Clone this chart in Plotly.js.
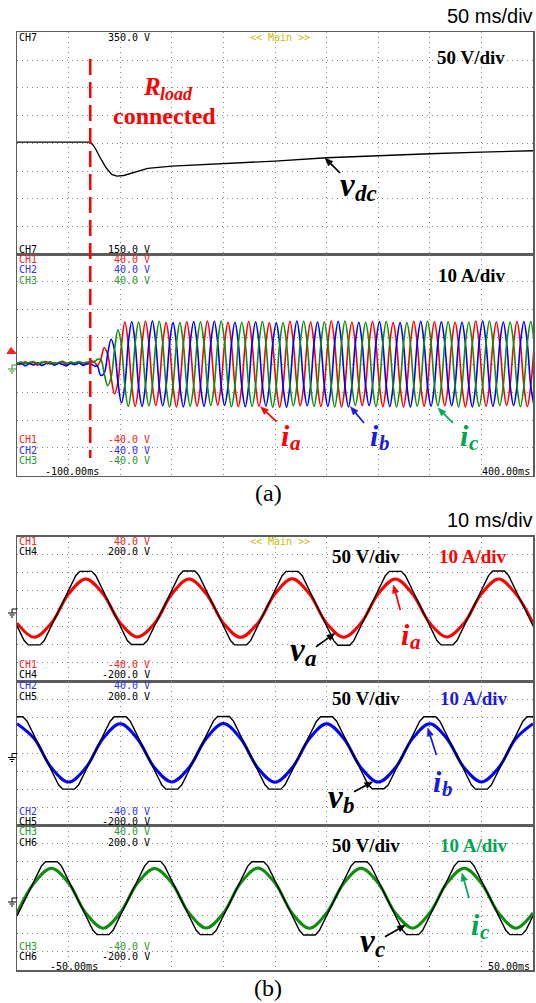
<!DOCTYPE html>
<html><head><meta charset="utf-8">
<script src="https://cdn.plot.ly/plotly-3.0.1.min.js"></script>
<style>html,body{margin:0;padding:0;background:#fff}#chart{width:536px;height:1003px}</style>
</head><body><div id="chart"></div>
<script>
// ================= DATA =================
// (a) time base -100..400 ms, 50 ms/div
const tLoad = -29; // ms : instant the load resistor is connected
const vdcTime  = [-100,-29,-26,-23.3,-18.2,-13.3,-8.2,-3.3,3.4,10,16.7,26.7,50,83,120,150,200,250,300,350,400];
const vdcValue = [251,251,248,244,235,227.5,222,220.5,221,223,224.8,227.5,229.5,231,232.8,234,237,239,240.6,242,243.3];

const iPreTime = [-100,-96,-92,-88,-84,-80,-76,-72,-68,-64,-60,-56,-52,-48,-44,-40,-36,-32,-28,-24];
const iaPre = [0.8,0.2,1.1,0.4,0.9,-0.1,0.7,1.2,0.3,0.8,0.5,1.0,0.2,0.9,0.6,1.1,0.3,0.7,1.6,0.6];
const ibPre = [0.1,0.7,-0.3,0.5,0.0,0.8,-0.2,0.4,0.9,-0.1,0.6,0.2,-0.3,0.5,0.1,0.7,-0.2,0.4,0.2,-0.5];
const icPre = [0.5,1.0,0.6,0.9,1.2,0.4,1.0,0.7,1.1,0.5,0.9,1.3,0.6,1.0,0.8,1.2,0.7,1.0,0.9,1.4];

const iTime = [-22.2,-18.8,-15.5,-12.2,-8.8,-5.5,-2.2,1.2,4.5,7.8,11.2,14.5,17.8,21.2,24.5,27.8,31.2,34.5,37.8,41.2,44.5,47.8,51.2,54.5,57.8,61.2,64.5,67.8,71.2,74.5,77.8,81.2,84.5,87.8,91.2,94.5,97.8,101.2,104.5,107.8,111.2,114.5,117.8,121.2,124.5,127.8,131.2,134.5,137.8,141.2,144.5,147.8,151.2,154.5,157.8,161.2,164.5,167.8,171.2,174.5,177.8,181.2,184.5,187.8,191.2,194.5,197.8,201.2,204.5,207.8,211.2,214.5,217.8,221.2,224.5,227.8,231.2,234.5,237.8,241.2,244.5,247.8,251.2,254.5,257.8,261.2,264.5,267.8,271.2,274.5,277.8,281.2,284.5,287.8,291.2,294.5,297.8,301.2,304.5,307.8,311.2,314.5,317.8,321.2,324.5,327.8,331.2,334.5,337.8,341.2,344.5,347.8,351.2,354.5,357.8,361.2,364.5,367.8,371.2,374.5,377.8,381.2,384.5,387.8,391.2,394.5,397.8,401.2];
const iaA = [-0.3,1.9,6.2,3.9,-4.5,-10.5,-6.2,7.1,
15.5,7.7,-7.5,-15.0,-7.5,7.7, 15.8,7.9,-7.4,-14.7,-7.4,7.8, 15.3,7.6,-7.6,-15.2,-7.6,7.6, 15.6,7.8,-7.5,-14.9,-7.5,7.8,
15.9,7.9,-7.3,-14.6,-7.3,7.9, 15.4,7.7,-7.6,-15.1,-7.6,7.7, 15.7,7.8,-7.5,-15.0,-7.5,7.8, 15.2,7.6,-7.7,-15.3,-7.7,7.6,
15.8,7.9,-7.4,-14.8,-7.4,7.9, 15.5,7.7,-7.5,-15.0,-7.5,7.7, 15.9,7.9,-7.6,-15.2,-7.6,7.9, 15.4,7.7,-7.4,-14.7,-7.4,7.7,
15.7,7.8,-7.5,-15.1,-7.5,7.8, 15.3,7.6,-7.6,-15.2,-7.6,7.6, 15.8,7.9,-7.5,-14.9,-7.5,7.9, 15.6,7.8,-7.4,-14.8,-7.4,7.8,
15.4,7.7,-7.6,-15.2,-7.6,7.7, 15.9,7.9,-7.5,-15.0,-7.5,7.9, 15.5,7.7,-7.4,-14.7,-7.4,7.7, 15.7,7.8,-7.6,-15.1,-7.6,7.8];
const ibA = [-0.3,-3.8,-3.0,3.9,9.3,5.4,-6.2,-13.8,
-7.5,7.7,15.6,7.8,-7.5,-15.0, -7.4,7.8,15.9,7.9,-7.4,-14.8, -7.6,7.6,15.3,7.6,-7.6,-15.2, -7.5,7.7,15.7,7.8,-7.5,-15.0,
-7.3,7.9,15.8,7.9,-7.3,-14.6, -7.6,7.6,15.4,7.7,-7.6,-15.1, -7.5,7.8,15.6,7.8,-7.5,-14.9, -7.7,7.6,15.2,7.6,-7.7,-15.3,
-7.4,7.9,15.9,7.9,-7.4,-14.8, -7.5,7.7,15.5,7.7,-7.5,-15.0, -7.6,7.9,15.8,7.9,-7.6,-15.2, -7.4,7.7,15.4,7.7,-7.4,-14.7,
-7.5,7.8,15.7,7.8,-7.5,-15.1, -7.6,7.6,15.3,7.6,-7.6,-15.2, -7.5,7.9,15.8,7.9,-7.5,-14.9, -7.4,7.8,15.6,7.8,-7.4,-14.8,
-7.6,7.7,15.4,7.7,-7.6,-15.2, -7.5,7.9,15.9,7.9,-7.5,-15.0, -7.4,7.7,15.5,7.7,-7.4,-14.7, -7.6,7.8,15.7,7.8,-7.6,-15.1];
const icA = [2.0,1.9,-3.0,-7.5,-4.5,5.4,12.7,7.1,
-7.5,-15.0,-7.5,7.7,15.5,7.7, -7.4,-14.8,-7.4,7.8,15.8,7.9, -7.6,-15.2,-7.6,7.6,15.3,7.6, -7.5,-14.9,-7.5,7.8,15.6,7.8,
-7.3,-14.7,-7.3,7.9,15.9,7.9, -7.6,-15.1,-7.6,7.7,15.4,7.7, -7.5,-15.0,-7.5,7.8,15.7,7.8, -7.7,-15.3,-7.7,7.6,15.2,7.6,
-7.4,-14.8,-7.4,7.9,15.8,7.9, -7.5,-15.0,-7.5,7.7,15.5,7.7, -7.6,-15.2,-7.6,7.9,15.9,7.9, -7.4,-14.7,-7.4,7.7,15.4,7.7,
-7.5,-15.1,-7.5,7.8,15.7,7.8, -7.6,-15.2,-7.6,7.6,15.3,7.6, -7.5,-14.9,-7.5,7.9,15.8,7.9, -7.4,-14.8,-7.4,7.8,15.6,7.8,
-7.6,-15.2,-7.6,7.7,15.4,7.7, -7.5,-15.0,-7.5,7.9,15.9,7.9, -7.4,-14.7,-7.4,7.7,15.5,7.7, -7.6,-15.1,-7.6,7.8,15.7,7.8];

// (b) time base -50..50 ms, 10 ms/div
const tB  = [-50,-46.67,-43.33,-40,-36.67,-33.33,-30,-26.67,-23.33,-20,-16.67,-13.33,-10,-6.67,-3.33,0,3.33,6.67,10,13.33,16.67,20,23.33,26.67,30,33.33,36.67,40,43.33,46.67,50];
const iaB = [-7.9,-15.7,-7.9,8.3,16.6,8.3, -7.8,-15.6,-8.0,8.2,16.5,8.4, -7.9,-15.8,-7.9,8.3,16.7,8.3, -8.0,-15.7,-7.9,8.3,16.6,8.2, -7.9,-15.6,-7.8,8.3,16.5,8.3, -7.9];
const ibB = [16.4,8.2,-8.0,-15.9,-8.0,8.2, 16.3,8.1,-8.0,-15.8,-7.9,8.2, 16.5,8.2,-8.1,-16.0,-8.0,8.2, 16.4,8.2,-7.9,-15.9,-8.0,8.3, 16.4,8.1,-8.0,-15.8,-8.0,8.2, 16.4];
const icB = [-8.4,8.2,16.4,8.2,-8.4,-16.8, -8.3,8.1,16.3,8.2,-8.4,-16.7, -8.4,8.2,16.5,8.2,-8.5,-16.9, -8.4,8.1,16.4,8.2,-8.4,-16.8, -8.3,8.2,16.4,8.1,-8.4,-16.8, -8.4];
const vaTime = [-50,-48.62,-47.82,-45.52,-44.72,-38.62,-37.82,-35.52,-34.72,-28.62,-27.82,-25.52,-24.72,-18.62,-17.82,-15.52,-14.72,-8.62,-7.82,-5.52,-4.72,1.38,2.18,4.48,5.28,11.38,12.18,14.48,15.28,21.38,22.18,24.48,25.28,31.38,32.18,34.48,35.28,41.38,42.18,44.48,45.28,50];
const vaB = [-47,-88,-100,-100,-88, 92,104,104,92, -88,-99,-99,-88, 92,105,105,92, -88,-100,-100,-88, 92,104,104,92, -88,-101,-101,-88, 92,104,104,92, -88,-100,-100,-88, 92,105,105,92, -47];
const vbTime = [-50,-48.85,-48.05,-41.95,-41.15,-38.85,-38.05,-31.95,-31.15,-28.85,-28.05,-21.95,-21.15,-18.85,-18.05,-11.95,-11.15,-8.85,-8.05,-1.95,-1.15,1.15,1.95,8.05,8.85,11.15,11.95,18.05,18.85,21.15,21.95,28.05,28.85,31.15,31.95,38.05,38.85,41.15,41.95,48.05,48.85,50];
const vbB = [101,101,89, -87,-99,-99,-87, 89,101,101,89, -87,-99,-99,-87, 89,102,102,89, -87,-99,-99,-87, 89,101,101,89, -87,-98,-98,-87, 89,101,101,89, -87,-99,-99,-87, 89,101,101];
const vcTime = [-50,-45.28,-44.48,-42.18,-41.38,-35.28,-34.48,-32.18,-31.38,-25.28,-24.48,-22.18,-21.38,-15.28,-14.48,-12.18,-11.38,-5.28,-4.48,-2.18,-1.38,4.72,5.52,7.82,8.62,14.72,15.52,17.82,18.62,24.72,25.52,27.82,28.62,34.72,35.52,37.82,38.62,44.72,45.52,47.82,48.62,50];
const vcB = [-50, 88,100,100,88, -90,-102,-102,-90, 88,101,101,88, -90,-102,-102,-90, 88,100,100,88, -90,-103,-103,-90, 88,100,100,88, -90,-102,-102,-90, 88,101,101,88, -90,-102,-102,-90, -50];

// ================= STYLE =================
const W = 536, H = 1003;
const RED = '#ff0000', BLUE = '#0000ff', GREEN = '#0d8f0d';
const TRED = '#ff2020', TBLUE = '#3030ff', TGREEN = '#2a9a2a';
const LGREEN = '#00a651', LBLUE = '#1c1cd8';
const MONO = 'DejaVu Sans Mono, monospace';
const SERIF = 'Liberation Serif, Times New Roman, serif';
const SANS = 'Liberation Sans, Arial, sans-serif';
const X = p => p / W, Y = p => 1 - p / H;

const xDom = [X(17), X(533)];
const dom = (top, bot) => [Y(bot), Y(top)];
const base = {showline:true, mirror:true, linecolor:'#5c5c5c', linewidth:1.5,
  showgrid:true, gridcolor:'#8a8a8a', gridwidth:1, griddash:'1px,4px',
  zeroline:false, showticklabels:false, ticks:'', fixedrange:true};

const traces = [
  {x:vdcTime, y:vdcValue, xaxis:'x', yaxis:'y', mode:'lines', line:{color:'#000', width:1.3}},
  {x:iPreTime.concat(iTime), y:iaPre.concat(iaA), xaxis:'x2', yaxis:'y2', mode:'lines', line:{color:RED, width:1.6, shape:'spline'}},
  {x:iPreTime.concat(iTime), y:ibPre.concat(ibA), xaxis:'x2', yaxis:'y2', mode:'lines', line:{color:BLUE, width:1.6, shape:'spline'}},
  {x:iPreTime.concat(iTime), y:icPre.concat(icA), xaxis:'x2', yaxis:'y2', mode:'lines', line:{color:GREEN, width:1.6, shape:'spline'}},
  {x:tB, y:iaB, xaxis:'x3', yaxis:'y3', mode:'lines', line:{color:RED, width:3, shape:'spline'}},
  {x:tB, y:ibB, xaxis:'x4', yaxis:'y4', mode:'lines', line:{color:BLUE, width:3, shape:'spline'}},
  {x:tB, y:icB, xaxis:'x5', yaxis:'y5', mode:'lines', line:{color:GREEN, width:3, shape:'spline'}},
  {x:vaTime, y:vaB, xaxis:'x3', yaxis:'y6', mode:'lines', line:{color:'#000', width:1.4}},
  {x:vbTime, y:vbB, xaxis:'x4', yaxis:'y7', mode:'lines', line:{color:'#000', width:1.4}},
  {x:vcTime, y:vcB, xaxis:'x5', yaxis:'y8', mode:'lines', line:{color:'#000', width:1.4}}
];

const ann = [];
const shapes = [];
function T(text, px, py, color, size, xa, fam) {
  ann.push({text, x:X(px), y:Y(py), xref:'paper', yref:'paper', xanchor:xa||'left', yanchor:'middle',
    showarrow:false, borderpad:0, font:{family:fam||MONO, size:size||10, color:color||'#000'}});
}
// symbol with subscript: main glyph + smaller subscript placed after it (glyph widths in em, Times bold italic)
const GW = {R:0.667, v:0.444, i:0.278};
function TS(main, sub, px, py, color, size) {
  T('<b><i>' + main + '</i></b>', px, py, color, size, 'left', SERIF);
  T('<b><i>' + sub + '</i></b>', px + GW[main] * size + 0.5, py + 0.27 * size, color, Math.round(size * 0.7), 'left', SERIF);
}
// pointer arrow drawn as a line plus a filled head (paper coordinates)
function A(hx, hy, tx, ty, color) {
  const dx = hx - tx, dy = hy - ty, L = Math.hypot(dx, dy), ux = dx / L, uy = dy / L;
  const hl = 8, hw = 3.2, bx = hx - ux * hl, by = hy - uy * hl;
  shapes.push({type:'line', xref:'paper', yref:'paper', x0:X(tx), y0:Y(ty), x1:X(bx), y1:Y(by),
    line:{color, width:1.7}});
  shapes.push({type:'path', xref:'paper', yref:'paper', fillcolor:color, line:{color, width:0.5},
    path:`M ${X(hx)} ${Y(hy)} L ${X(bx - uy*hw)} ${Y(by + ux*hw)} L ${X(bx + uy*hw)} ${Y(by - ux*hw)} Z`});
}
const MAIN = '&lt;&lt; Main &gt;&gt;', YEL = '#c8c000';

// headers
T('50 ms/div', 534, 16, '#000', 20, 'right', SANS);
T('10 ms/div', 534, 520, '#000', 20, 'right', SANS);
T('(a)', 268, 493, '#000', 24, 'center', SERIF);
T('(b)', 268, 988, '#000', 24, 'center', SERIF);

// (a) top
T('CH7', 18, 37.5); T('350.0 V', 151, 37.5, '#000', 10, 'right'); T(MAIN, 280, 37.5, YEL, 10, 'center');
T('CH7', 18, 249); T('150.0 V', 151, 249, '#000', 10, 'right');
T('<b>50 V/div</b>', 436, 57, '#000', 19, 'left', SERIF);
TS('R', 'load', 142, 87, RED, 25);
T('<b>connected</b>', 164, 116, RED, 24, 'center', SERIF);
TS('v', 'dc', 339, 185, '#000', 33);
A(325, 158, 340, 173, '#000');

// (a) bottom
T('CH1', 18, 259.5, TRED); T('40.0 V', 151, 259.5, TRED, 10, 'right');
T('CH2', 18, 270, TBLUE);  T('40.0 V', 151, 270, TBLUE, 10, 'right');
T('CH3', 18, 280.5, TGREEN); T('40.0 V', 151, 280.5, TGREEN, 10, 'right');
T('<b>10 A/div</b>', 437, 275, '#000', 19, 'left', SERIF);
T('CH1', 18, 440, TRED); T('-40.0 V', 151, 440, TRED, 10, 'right');
T('CH2', 18, 450, TBLUE); T('-40.0 V', 151, 450, TBLUE, 10, 'right');
T('CH3', 18, 460, TGREEN); T('-40.0 V', 151, 460, TGREEN, 10, 'right');
T('-100.00ms', 44, 471.5); T('400.00ms', 531, 471.5, '#000', 10, 'right');
TS('i', 'a', 280, 435, RED, 30);
TS('i', 'b', 369, 435, LBLUE, 30);
TS('i', 'c', 459, 435, LGREEN, 30);
A(260.5, 406.7, 276.6, 421.7, RED);
A(350.5, 406.7, 364, 423, LBLUE);
A(438, 408, 453, 423, LGREEN);

// (b) sub 1
T('CH1', 18, 541, TRED); T('40.0 V', 151, 541, TRED, 10, 'right'); T(MAIN, 280, 541, YEL, 10, 'center');
T('CH4', 18, 551); T('200.0 V', 151, 551, '#000', 10, 'right');
T('<b>50 V/div</b>', 331, 556, '#000', 19, 'left', SERIF);
T('<b>10 A/div</b>', 438, 556, RED, 19, 'left', SERIF);
T('CH1', 18, 664, TRED); T('-40.0 V', 151, 664, TRED, 10, 'right');
T('CH4', 18, 674); T('-200.0 V', 151, 674, '#000', 10, 'right');
TS('i', 'a', 400, 634, RED, 30);
TS('v', 'a', 289, 650, '#000', 33);
A(393.5, 585, 400.3, 610, RED);
A(335, 633.3, 316, 646.7, '#000');

// (b) sub 2
T('CH2', 18, 685.5, TBLUE); T('40.0 V', 151, 685.5, TBLUE, 10, 'right');
T('CH5', 18, 696.5); T('200.0 V', 151, 696.5, '#000', 10, 'right');
T('<b>50 V/div</b>', 331, 698.5, '#000', 19, 'left', SERIF);
T('<b>10 A/div</b>', 439, 698.5, LBLUE, 19, 'left', SERIF);
T('CH2', 18, 811.5, TBLUE); T('-40.0 V', 151, 811.5, TBLUE, 10, 'right');
T('CH5', 18, 821.5); T('-200.0 V', 151, 821.5, '#000', 10, 'right');
TS('i', 'b', 432, 781, LBLUE, 30);
TS('v', 'b', 327, 797, '#000', 33);
A(427.8, 728, 436.4, 755, LBLUE);
A(372.8, 781.7, 354, 791.7, '#000');

// (b) sub 3
T('CH3', 18, 831.5, TGREEN); T('40.0 V', 151, 831.5, TGREEN, 10, 'right');
T('CH6', 18, 842); T('200.0 V', 151, 842, '#000', 10, 'right');
T('<b>50 V/div</b>', 331, 845, '#000', 19, 'left', SERIF);
T('<b>10 A/div</b>', 439, 845, LGREEN, 19, 'left', SERIF);
T('CH3', 18, 946, TGREEN); T('-40.0 V', 151, 946, TGREEN, 10, 'right');
T('CH6', 18, 956); T('-200.0 V', 151, 956, '#000', 10, 'right');
T('-50.00ms', 49, 966); T('50.00ms', 531, 966, '#000', 10, 'right');
TS('i', 'c', 470, 924, LGREEN, 30);
TS('v', 'c', 359, 941, '#000', 33);
A(462, 873, 469, 898, LGREEN);
A(405.5, 925, 385, 936.7, '#000');

// load-connection marker, trigger marker, ground symbols
shapes.push({type:'line', xref:'x', yref:'paper', x0:tLoad, x1:tLoad, y0:Y(59), y1:Y(458),
   line:{color:'#ff0000', width:2.5, dash:'16px,7px'}});
shapes.push({type:'path', xref:'paper', yref:'paper', fillcolor:'#ff2020', line:{color:'#ff2020', width:1},
   path:`M ${X(7)} ${Y(353.5)} L ${X(16)} ${Y(353.5)} L ${X(11)} ${Y(347.5)} Z`});
function ground(cy, color) {
  const L = (x0,y0,x1,y1) => shapes.push({type:'line', xref:'paper', yref:'paper',
    x0:X(x0), y0:Y(y0), x1:X(x1), y1:Y(y1), line:{color, width:1}});
  L(12, cy, 17, cy); L(12, cy, 12, cy+4); L(8, cy+4, 16, cy+4); L(9.5, cy+6, 14.5, cy+6); L(11, cy+8, 13, cy+8);
}
ground(365, TGREEN); ground(609, '#000'); ground(753.5, '#000'); ground(898, '#000');

const layout = {
  width:W, height:H, margin:{l:0, r:0, t:0, b:0}, showlegend:false,
  paper_bgcolor:'#fff', plot_bgcolor:'#fff',
  xaxis:  Object.assign({}, base, {domain:xDom, range:[-100,400], tick0:-100, dtick:50, anchor:'y'}),
  xaxis2: Object.assign({}, base, {domain:xDom, range:[-100,400], tick0:-100, dtick:50, anchor:'y2'}),
  xaxis3: Object.assign({}, base, {domain:xDom, range:[-50,50], tick0:-50, dtick:10, anchor:'y3'}),
  xaxis4: Object.assign({}, base, {domain:xDom, range:[-50,50], tick0:-50, dtick:10, anchor:'y4'}),
  xaxis5: Object.assign({}, base, {domain:xDom, range:[-50,50], tick0:-50, dtick:10, anchor:'y5'}),
  yaxis:  Object.assign({}, base, {domain:dom(32.3,254.3), range:[150,350], tick0:150, dtick:25, anchor:'x'}),
  yaxis2: Object.assign({}, base, {domain:dom(254.3,475.5), range:[-40,40], tick0:-40, dtick:10, anchor:'x2'}),
  yaxis3: Object.assign({}, base, {domain:dom(536.7,681), range:[-40,40], tick0:-40, dtick:10, anchor:'x3'}),
  yaxis4: Object.assign({}, base, {domain:dom(681,825.7), range:[-40,40], tick0:-40, dtick:10, anchor:'x4'}),
  yaxis5: Object.assign({}, base, {domain:dom(825.7,970), range:[-40,40], tick0:-40, dtick:10, anchor:'x5'}),
  yaxis6: {overlaying:'y3', anchor:'x3', range:[-200,200], visible:false, fixedrange:true},
  yaxis7: {overlaying:'y4', anchor:'x4', range:[-200,200], visible:false, fixedrange:true},
  yaxis8: {overlaying:'y5', anchor:'x5', range:[-200,200], visible:false, fixedrange:true},
  annotations: ann, shapes: shapes
};
Plotly.newPlot('chart', traces, layout, {staticPlot:true, displayModeBar:false});
</script></body></html>
